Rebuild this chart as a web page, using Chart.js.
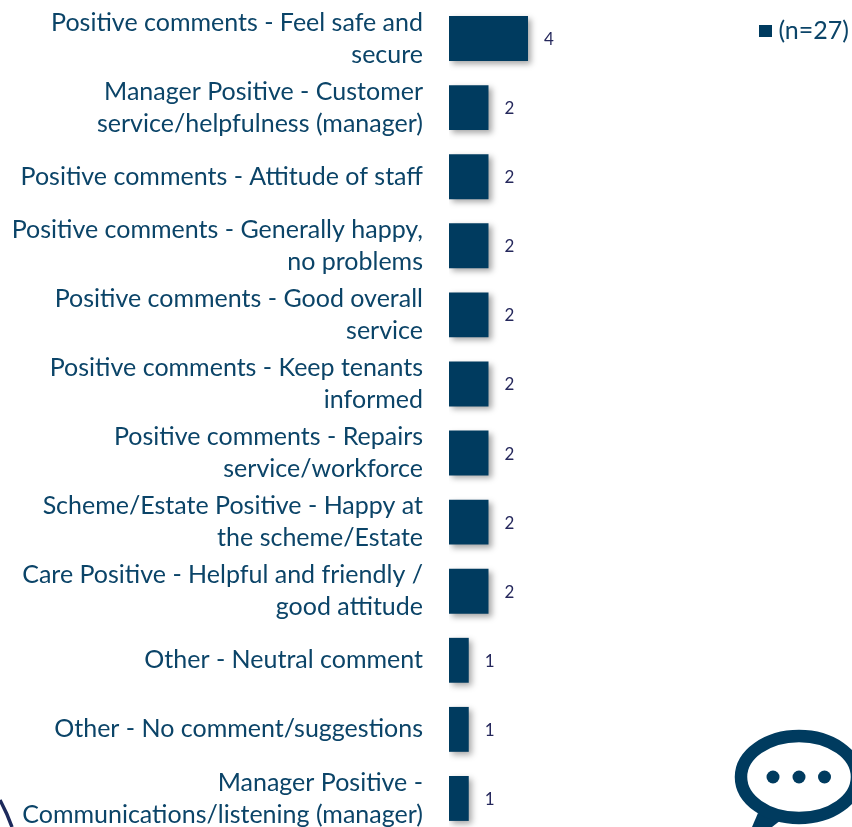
<!DOCTYPE html>
<html>
<head>
<meta charset="utf-8">
<style>
  html, body { margin: 0; padding: 0; background: #fff; overflow: hidden; width: 852px; height: 827px; }
  #wrap { position: absolute; left: 0; top: 0; width: 852px; height: 836px; }
  svg { position: absolute; left: 0; top: 0; pointer-events: none; }
</style>
<script src="https://cdn.jsdelivr.net/npm/chart.js@4"></script>
</head>
<body>
<div id="wrap"><canvas id="graph" width="852" height="836"></canvas></div>
<!-- speech bubble + corner arc from the slide behind the chart -->
<svg width="852" height="827" viewBox="0 0 852 827">
  <path d="M0 800 Q7 813 12 827" fill="none" stroke="#1d2a5c" stroke-width="3.5"/>
  <path d="M758 813 L752 827 L772 827 L781 820 Z" fill="#003b5f"/>
  <ellipse cx="799" cy="777" rx="58" ry="41" fill="#fff" stroke="#003b5f" stroke-width="12.5"/>
  <circle cx="773" cy="777" r="6.5" fill="#003b5f"/>
  <circle cx="799" cy="777" r="6.5" fill="#003b5f"/>
  <circle cx="824.5" cy="777" r="6.5" fill="#003b5f"/>
</svg>
<script>
const categories = [
  ["Positive comments - Feel safe and", "secure"],
  ["Manager Positive - Customer", "service/helpfulness (manager)"],
  "Positive comments - Attitude of staff",
  ["Positive comments - Generally happy,", "no problems"],
  ["Positive comments - Good overall", "service"],
  ["Positive comments - Keep tenants", "informed"],
  ["Positive comments - Repairs", "service/workforce"],
  ["Scheme/Estate Positive - Happy at", "the scheme/Estate"],
  ["Care Positive - Helpful and friendly /", "good attitude"],
  "Other - Neutral comment",
  "Other - No comment/suggestions",
  ["Manager Positive -", "Communications/listening (manager)"],
];
const counts = [4, 2, 2, 2, 2, 2, 2, 2, 2, 1, 1, 1];
const seriesName = "(n=27)";

const navy = "#003b5f";
const labelBlue = "#0b4468";

// soft drop shadow under the bars
const barShadow = {
  id: "barShadow",
  beforeDatasetDraw(chart) {
    const ctx = chart.ctx;
    ctx.save();
    ctx.shadowColor = "rgba(0,0,0,0.35)";
    ctx.shadowBlur = 6;
    ctx.shadowOffsetX = 3;
    ctx.shadowOffsetY = 3;
  },
  afterDatasetDraw(chart) {
    chart.ctx.restore();
  },
};

// value next to each bar
const valueLabels = {
  id: "valueLabels",
  afterDatasetsDraw(chart) {
    const ctx = chart.ctx;
    const meta = chart.getDatasetMeta(0);
    ctx.save();
    ctx.font = "17px Lato";
    ctx.fillStyle = "#25285c";
    ctx.textAlign = "center";
    ctx.textBaseline = "middle";
    meta.data.forEach((bar, i) => {
      ctx.fillText(counts[i], bar.x + 21, bar.y + 1);
    });
    ctx.restore();
  },
};

// the built-in legend reserves a band above the plot, so draw the key by hand in the corner
const cornerLegend = {
  id: "cornerLegend",
  afterDraw(chart) {
    const ctx = chart.ctx;
    const ds = chart.data.datasets[0];
    ctx.save();
    ctx.fillStyle = ds.backgroundColor;
    ctx.fillRect(759, 25, 13, 12);
    ctx.font = "25px Lato";
    ctx.fillStyle = labelBlue;
    ctx.textAlign = "right";
    ctx.textBaseline = "middle";
    ctx.fillText(ds.label, 849, 31);
    ctx.restore();
  },
};

new Chart(document.getElementById("graph").getContext("2d"), {
  type: "bar",
  data: {
    labels: categories,
    datasets: [
      {
        label: seriesName,
        data: counts,
        backgroundColor: navy,
        barPercentage: 0.65,
        categoryPercentage: 1,
      },
    ],
  },
  plugins: [barShadow, valueLabels, cornerLegend],
  options: {
    indexAxis: "y",
    responsive: false,
    animation: false,
    layout: { padding: { top: 4, right: 3, bottom: 3, left: 0 } },
    scales: {
      x: { display: false, min: 0, max: 20.25 },
      y: {
        grid: { display: false, drawTicks: false },
        border: { display: false },
        afterFit(scale) {
          scale.width = 449;
          scale.paddingTop = 0;
          scale.paddingBottom = 0;
        },
        ticks: {
          autoSkip: false,
          padding: 26,
          color: labelBlue,
          font: { family: "Lato", size: 25, lineHeight: 1.28 },
        },
      },
    },
    plugins: {
      tooltip: { enabled: false },
      legend: { display: false },
    },
  },
});
</script>
</body>
</html>
